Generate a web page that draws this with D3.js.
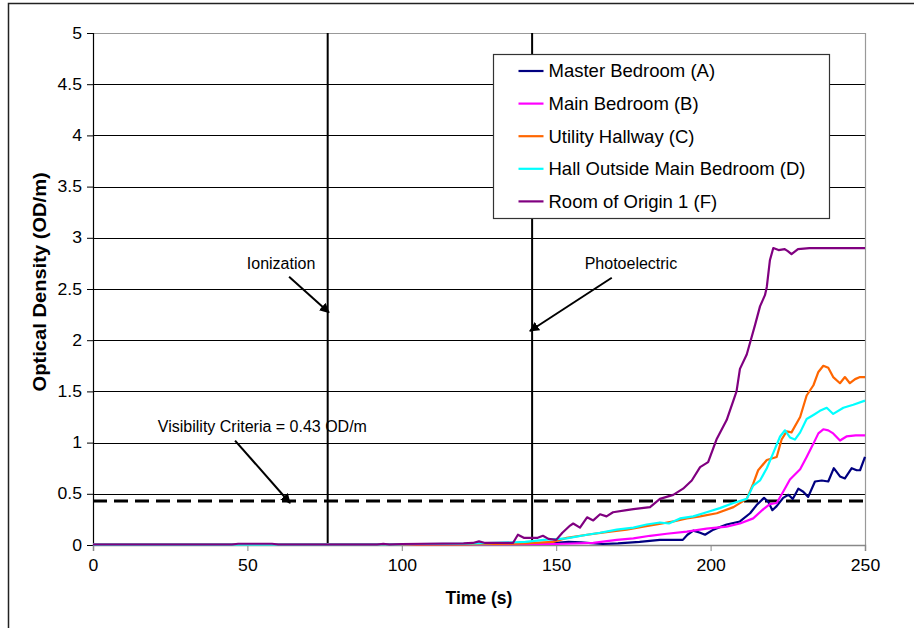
<!DOCTYPE html>
<html>
<head>
<meta charset="utf-8">
<script src="https://cdn.jsdelivr.net/npm/d3@7"></script>
<style>
  html, body { margin: 0; padding: 0; background: #fff; }
  svg { display: block; font-family: "Liberation Sans", Arial, sans-serif; }
</style>
</head>
<body>
<svg id="chart" width="914" height="628"></svg>
<script>
// Smoke optical density measured at five locations, [time (s), OD/m]
const masterBedroomA = [
  [0,0.005],[40,0.005],[60,0.005],[100,0.008],[120,0.01],[135,0.015],[145,0.015],[150,0.02],
  [154,0.03],[158,0.025],[165,0.01],[170,0.015],[177,0.03],[183.6,0.05],[191,0.05],[192.5,0.1],
  [194.4,0.14],[196.6,0.12],[198.2,0.1],[200.9,0.15],[205.2,0.2],[209.5,0.23],[212.8,0.31],
  [214.9,0.39],[217.3,0.46],[218.7,0.42],[220,0.34],[221.4,0.38],[223.5,0.46],[225.2,0.49],
  [226.6,0.45],[228.4,0.55],[230,0.52],[231.6,0.47],[233.8,0.62],[236,0.63],[238.1,0.62],
  [239.9,0.75],[241.9,0.67],[243.5,0.65],[245.7,0.75],[247.3,0.73],[248.4,0.73],[250,0.86]
];
const mainBedroomB = [
  [0,0.003],[100,0.005],[130,0.008],[150,0.01],[162,0.02],[169.6,0.05],[175,0.065],[180.4,0.09],
  [185.8,0.11],[192.3,0.13],[198.7,0.16],[205.2,0.18],[209.5,0.21],[213.8,0.26],[217.1,0.35],
  [219.2,0.4],[221.4,0.41],[223.5,0.52],[225.7,0.64],[229,0.74],[231.1,0.86],[233.3,0.99],
  [234.9,1.09],[236.5,1.13],[238.1,1.12],[239.7,1.09],[241.9,1.02],[244,1.06],[247,1.07],[250,1.07]
];
const utilityHallwayC = [
  [0,0.003],[120,0.005],[126,0.01],[131,0.01],[140,0.015],[149,0.03],[153.4,0.07],[160,0.1],
  [167.4,0.13],[172.8,0.15],[178.2,0.18],[182.5,0.2],[188,0.23],[192.3,0.26],[196.6,0.28],
  [202,0.31],[207.4,0.37],[211.7,0.45],[213.8,0.6],[215.4,0.73],[218.2,0.83],[221.4,0.86],
  [223,1.03],[224.6,1.11],[226.2,1.1],[229,1.25],[231.1,1.46],[233.3,1.56],[234.9,1.69],
  [236.5,1.75],[238.1,1.73],[239.7,1.64],[241.9,1.58],[243.5,1.64],[245.1,1.58],[246.8,1.62],
  [248.4,1.64],[250,1.64]
];
const hallOutsideD = [
  [0,0.003],[98,0.005],[105,0.01],[120,0.012],[130,0.02],[140,0.03],[146,0.05],[153.4,0.065],
  [160,0.1],[164.2,0.12],[169.6,0.15],[175,0.17],[179.3,0.2],[183.6,0.22],[186.5,0.21],
  [190.1,0.26],[194.4,0.28],[198.7,0.32],[203,0.36],[207.4,0.41],[211.7,0.45],[213.8,0.58],
  [216,0.63],[218.2,0.75],[220.3,0.9],[222.5,1.06],[224.1,1.12],[225.7,1.05],[227.3,1.03],
  [229,1.1],[231.1,1.23],[233.3,1.27],[235.4,1.31],[237.6,1.34],[239.7,1.28],[243,1.34],
  [246.2,1.37],[250,1.41]
];
const roomOfOriginF = [
  [0,0.005],[45,0.005],[47,0.012],[58,0.012],[60,0.005],[92,0.005],[94,0.012],[96,0.005],
  [100,0.01],[120,0.015],[123,0.02],[125,0.035],[127,0.02],[136,0.02],[137.6,0.1],[139.5,0.07],
  [144,0.07],[145.7,0.09],[147.5,0.06],[150,0.05],[152,0.12],[154.5,0.19],[155.5,0.21],
  [157.7,0.17],[160,0.27],[162,0.24],[164.2,0.3],[166.3,0.28],[168.4,0.32],[172.8,0.34],
  [175,0.35],[180.4,0.37],[183.6,0.45],[187.9,0.49],[191.1,0.55],[193.9,0.63],[196.6,0.76],
  [199.2,0.81],[201.9,1.03],[205.2,1.22],[208.4,1.5],[209.5,1.72],[211.7,1.86],[213,2.0],
  [214.4,2.15],[216,2.33],[217.6,2.44],[218.2,2.52],[219.2,2.78],[220.3,2.9],[222,2.88],
  [224,2.89],[225,2.87],[226.2,2.84],[228.3,2.89],[232,2.9],[250,2.9]
];

const seriesNames = ["Master Bedroom (A)", "Main Bedroom (B)", "Utility Hallway (C)",
                     "Hall Outside Main Bedroom (D)", "Room of Origin 1 (F)"];
const seriesColors = ["#000080", "#FF00FF", "#FF6600", "#00FFFF", "#800080"];
const seriesData = [masterBedroomA, mainBedroomB, utilityHallwayC, hallOutsideD, roomOfOriginF];

const xTicks = [0, 50, 100, 150, 200, 250];
const yTicks = [0, 0.5, 1, 1.5, 2, 2.5, 3, 3.5, 4, 4.5, 5];
const ionizationTime = 76;
const photoelectricTime = 142.2;
const visibilityCriteria = 0.43;

// annotation labels and arrows, in data units
const annotations = [
  { text: "Ionization", tx: 60.9, ty: 2.70, anchor: "middle", from: [63.5, 2.62], to: [76.4, 2.27] },
  { text: "Photoelectric", tx: 174.2, ty: 2.70, anchor: "middle", from: [168, 2.61], to: [141.5, 2.09] },
  { text: "Visibility Criteria = 0.43 OD/m", tx: 21, ty: 1.10, anchor: "start", from: [46, 1.02], to: [63.8, 0.41] }
];

const svg = d3.select("#chart");
const plot = { left: 93, right: 865, top: 33, bottom: 545 };

const x = d3.scaleLinear().domain([0, 250]).range([plot.left, plot.right]);
const y = d3.scaleLinear().domain([0, 5]).range([plot.bottom, plot.top]);

// widen glyphs slightly along the baseline
function stretch(sel, k) {
  sel.each(function () {
    const w = this.getComputedTextLength();
    d3.select(this).attr("textLength", w * k).attr("lengthAdjust", "spacingAndGlyphs");
  });
}

// outer frame
svg.append("rect")
  .attr("x", 8.5).attr("y", 3.5).attr("width", 1000).attr("height", 1000)
  .attr("fill", "none").attr("stroke", "#222").attr("stroke-width", 1.5);

// horizontal gridlines
svg.append("g")
  .selectAll("line")
  .data(yTicks.filter(d => d > 0 && d < 5))
  .join("line")
  .attr("x1", plot.left).attr("x2", plot.right)
  .attr("y1", d => Math.round(y(d)) + 0.5).attr("y2", d => Math.round(y(d)) + 0.5)
  .attr("stroke", "#000").attr("stroke-width", 1);

// plot border (top and right)
svg.append("path")
  .attr("d", `M${plot.left},${plot.top + 0.5}H${plot.right + 0.5}V${plot.bottom}`)
  .attr("fill", "none").attr("stroke", "#999").attr("stroke-width", 1.2);

// detector activation times
svg.append("g")
  .selectAll("line")
  .data([ionizationTime, photoelectricTime])
  .join("line")
  .attr("x1", d => x(d)).attr("x2", d => x(d))
  .attr("y1", plot.top).attr("y2", plot.bottom)
  .attr("stroke", "#000").attr("stroke-width", 2);

// visibility criteria
svg.append("line")
  .attr("x1", plot.left).attr("x2", plot.right)
  .attr("y1", y(visibilityCriteria)).attr("y2", y(visibilityCriteria))
  .attr("stroke", "#000").attr("stroke-width", 3)
  .attr("stroke-dasharray", "14,7");

// axes
const yAxis = d3.axisLeft(y).tickValues(yTicks).tickSize(6).tickPadding(5)
  .tickFormat(d => d3.format("")(d));
const gy = svg.append("g").attr("transform", `translate(${plot.left},0)`).call(yAxis);
gy.select(".domain").attr("stroke", "#000").attr("stroke-width", 1.2);
gy.selectAll(".tick line").attr("stroke", "#000");
gy.selectAll("text").attr("font-size", 16).attr("fill", "#000")
  .attr("font-family", "'Liberation Sans', Arial, sans-serif")
  .call(stretch, 1.1);

const xAxis = d3.axisBottom(x).tickValues(xTicks).tickSize(6).tickPadding(9);
const gx = svg.append("g").attr("transform", `translate(0,${plot.bottom})`).call(xAxis);
gx.select(".domain").attr("stroke", "#888").attr("stroke-width", 1.5);
gx.selectAll(".tick line").attr("stroke", "#888");
gx.selectAll("text").attr("font-size", 16).attr("fill", "#000")
  .attr("font-family", "'Liberation Sans', Arial, sans-serif")
  .call(stretch, 1.1);

// series
const line = d3.line().x(d => x(d[0])).y(d => y(d[1])).curve(d3.curveLinear);
svg.append("g")
  .selectAll("path")
  .data(seriesData)
  .join("path")
  .attr("d", d => line(d))
  .attr("fill", "none")
  .attr("stroke", (d, i) => seriesColors[i])
  .attr("stroke-width", 2.2)
  .attr("stroke-linejoin", "round");

// arrowhead
svg.append("defs").append("marker")
  .attr("id", "arrow").attr("viewBox", "0 0 10 10")
  .attr("refX", 9).attr("refY", 5)
  .attr("markerWidth", 5).attr("markerHeight", 5)
  .attr("markerUnits", "strokeWidth")
  .attr("orient", "auto")
  .append("path").attr("d", "M0,0L10,5L0,10z").attr("fill", "#000");

const ann = svg.append("g");
ann.selectAll("text")
  .data(annotations)
  .join("text")
  .attr("x", d => x(d.tx)).attr("y", d => y(d.ty))
  .attr("text-anchor", d => d.anchor)
  .attr("font-size", 16).attr("fill", "#000")
  .text(d => d.text);
ann.selectAll("line")
  .data(annotations)
  .join("line")
  .attr("x1", d => x(d.from[0])).attr("y1", d => y(d.from[1]))
  .attr("x2", d => x(d.to[0])).attr("y2", d => y(d.to[1]))
  .attr("stroke", "#000").attr("stroke-width", 2)
  .attr("marker-end", "url(#arrow)");

// axis titles
svg.append("text")
  .attr("x", x(125)).attr("y", 604)
  .attr("text-anchor", "middle").attr("font-size", 17.5).attr("font-weight", "bold")
  .text("Time (s)");
svg.append("text")
  .attr("transform", `translate(46,${y(2.57)}) rotate(-90)`)
  .attr("text-anchor", "middle").attr("font-size", 17.5).attr("font-weight", "bold")
  .text("Optical Density (OD/m)")
  .call(stretch, 1.15);

// legend
const legend = svg.append("g").attr("transform", "translate(493.5,54.5)");
legend.append("rect")
  .attr("width", 336).attr("height", 164)
  .attr("fill", "#fff").attr("stroke", "#333").attr("stroke-width", 1.2);
const items = legend.selectAll("g.item")
  .data(seriesNames)
  .join("g").attr("class", "item")
  .attr("transform", (d, i) => `translate(0,${16.5 + i * 32.6})`);
items.append("line")
  .attr("x1", 25).attr("x2", 50)
  .attr("stroke", (d, i) => seriesColors[i]).attr("stroke-width", 2.2);
items.append("text")
  .attr("x", 55).attr("dy", "0.35em")
  .attr("font-size", 18.5).attr("fill", "#000")
  .text(d => d);
</script>
</body>
</html>
